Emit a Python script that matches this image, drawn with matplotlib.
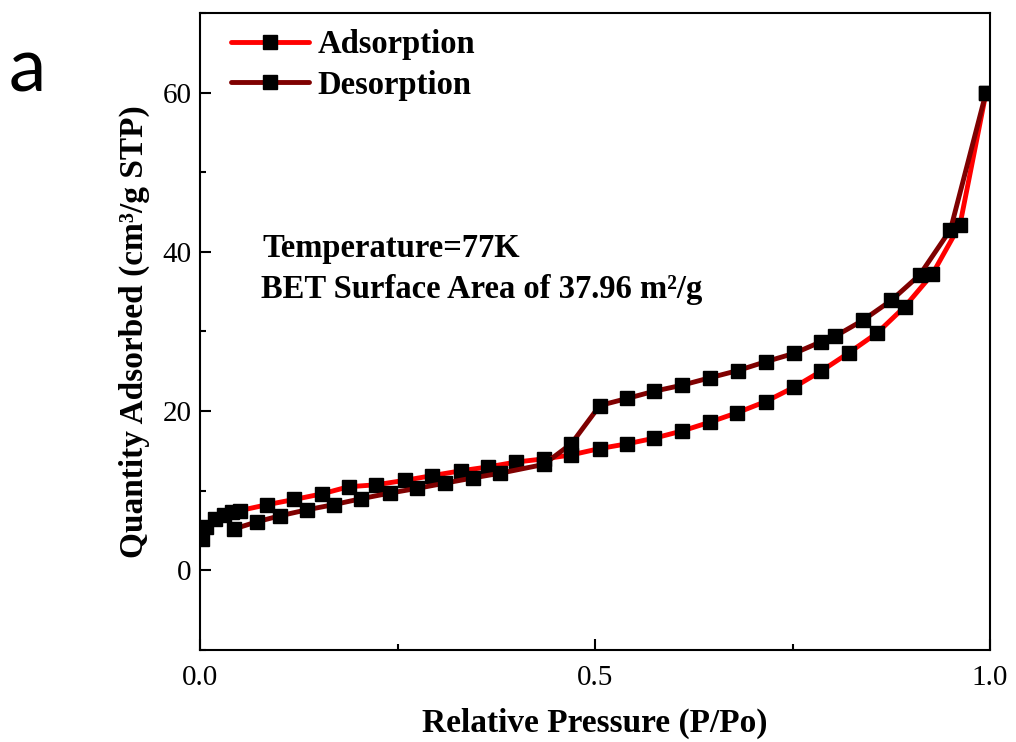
import matplotlib
matplotlib.use('Agg')
import matplotlib.pyplot as plt
from matplotlib.ticker import MultipleLocator

# Adsorption branch (P/Po, cm3/g STP)
ads_x = [0.002, 0.008, 0.019, 0.030, 0.040, 0.050, 0.085, 0.119, 0.154, 0.188,
         0.223, 0.259, 0.294, 0.330, 0.365, 0.400, 0.435, 0.470, 0.506, 0.541,
         0.575, 0.610, 0.645, 0.680, 0.716, 0.752, 0.786, 0.821, 0.857, 0.892,
         0.927, 0.962, 0.995]
ads_y = [4.0, 5.4, 6.4, 6.9, 7.3, 7.5, 8.25, 8.9, 9.6, 10.5,
         10.75, 11.3, 11.9, 12.5, 13.0, 13.6, 14.0, 14.5, 15.3, 15.9,
         16.6, 17.5, 18.6, 19.8, 21.2, 23.0, 25.0, 27.3, 29.8, 33.1,
         37.2, 43.4, 60.0]

# Desorption branch, from high to low pressure
des_x = [0.995, 0.950, 0.911, 0.875, 0.839, 0.804, 0.786, 0.752, 0.716, 0.681,
         0.646, 0.610, 0.575, 0.541, 0.506, 0.470, 0.435, 0.380, 0.345, 0.310,
         0.275, 0.240, 0.204, 0.169, 0.135, 0.101, 0.072, 0.043]
des_y = [60.0, 42.8, 37.1, 33.9, 31.4, 29.4, 28.7, 27.25, 26.2, 25.1,
         24.2, 23.25, 22.5, 21.6, 20.7, 15.9, 13.3, 12.2, 11.6, 10.95,
         10.3, 9.7, 9.0, 8.25, 7.6, 6.85, 6.1, 5.2]

serif = 'Liberation Serif'

fig = plt.figure(figsize=(10.16, 7.42), dpi=100)
ax = fig.add_axes([0.1969, 0.124, 0.7775, 0.8585])

ax.plot(ads_x, ads_y, color='#ff0000', lw=3.5, marker='s', ms=10,
        mfc='black', mec='black', label='Adsorption', solid_capstyle='round')
ax.plot(des_x, des_y, color='#7f0000', lw=3.5, marker='s', ms=10,
        mfc='black', mec='black', label='Desorption', solid_capstyle='round')

ax.set_xlim(0, 1.0)
ax.set_ylim(-10, 70)
ax.xaxis.set_major_locator(MultipleLocator(0.5))
ax.xaxis.set_minor_locator(MultipleLocator(0.25))
ax.yaxis.set_major_locator(MultipleLocator(20))
ax.yaxis.set_minor_locator(MultipleLocator(10))
ax.xaxis.set_major_formatter(plt.FuncFormatter(lambda v, p: f'{v:.1f}'))
ax.yaxis.set_major_formatter(plt.FuncFormatter(lambda v, p: f'{v:.0f}'))
ax.tick_params(which='both', direction='in', width=1.5, top=False, right=False)
ax.tick_params(which='major', length=8)
ax.tick_params(which='minor', length=4)
ax.tick_params(axis='x', pad=11)
ax.tick_params(axis='y', pad=6)
for lab in ax.get_xticklabels() + ax.get_yticklabels():
    lab.set_fontfamily(serif)
    lab.set_fontsize(21)

for sp in ax.spines.values():
    sp.set_linewidth(1.5)

ax.set_xlabel('Relative Pressure (P/Po)', fontfamily=serif, fontweight='bold',
              fontsize=24, labelpad=12)
ax.set_ylabel('Quantity Adsorbed (cm³/g STP)', fontfamily=serif,
              fontweight='bold', fontsize=24, labelpad=9)

ax.text(0.079, 39.4, 'Temperature=77K', fontfamily=serif, fontweight='bold',
        fontsize=23.5, va='baseline')
ax.text(0.077, 34.2, 'BET Surface Area of 37.96 m²/g', fontfamily=serif,
        fontweight='bold', fontsize=23.5, va='baseline')

ax.legend(loc='upper left', bbox_to_anchor=(0.035, 0.98), frameon=False,
          prop={'family': serif, 'weight': 'bold', 'size': 23.5},
          handlelength=2.4, handletextpad=0.25, labelspacing=0.3,
          borderpad=0.1, borderaxespad=0)

fig.text(0.027, 1 - 92 / 742, 'a', fontfamily='Lato', fontsize=54,
         ha='center', va='baseline')

fig.savefig('out.png', dpi=100)
